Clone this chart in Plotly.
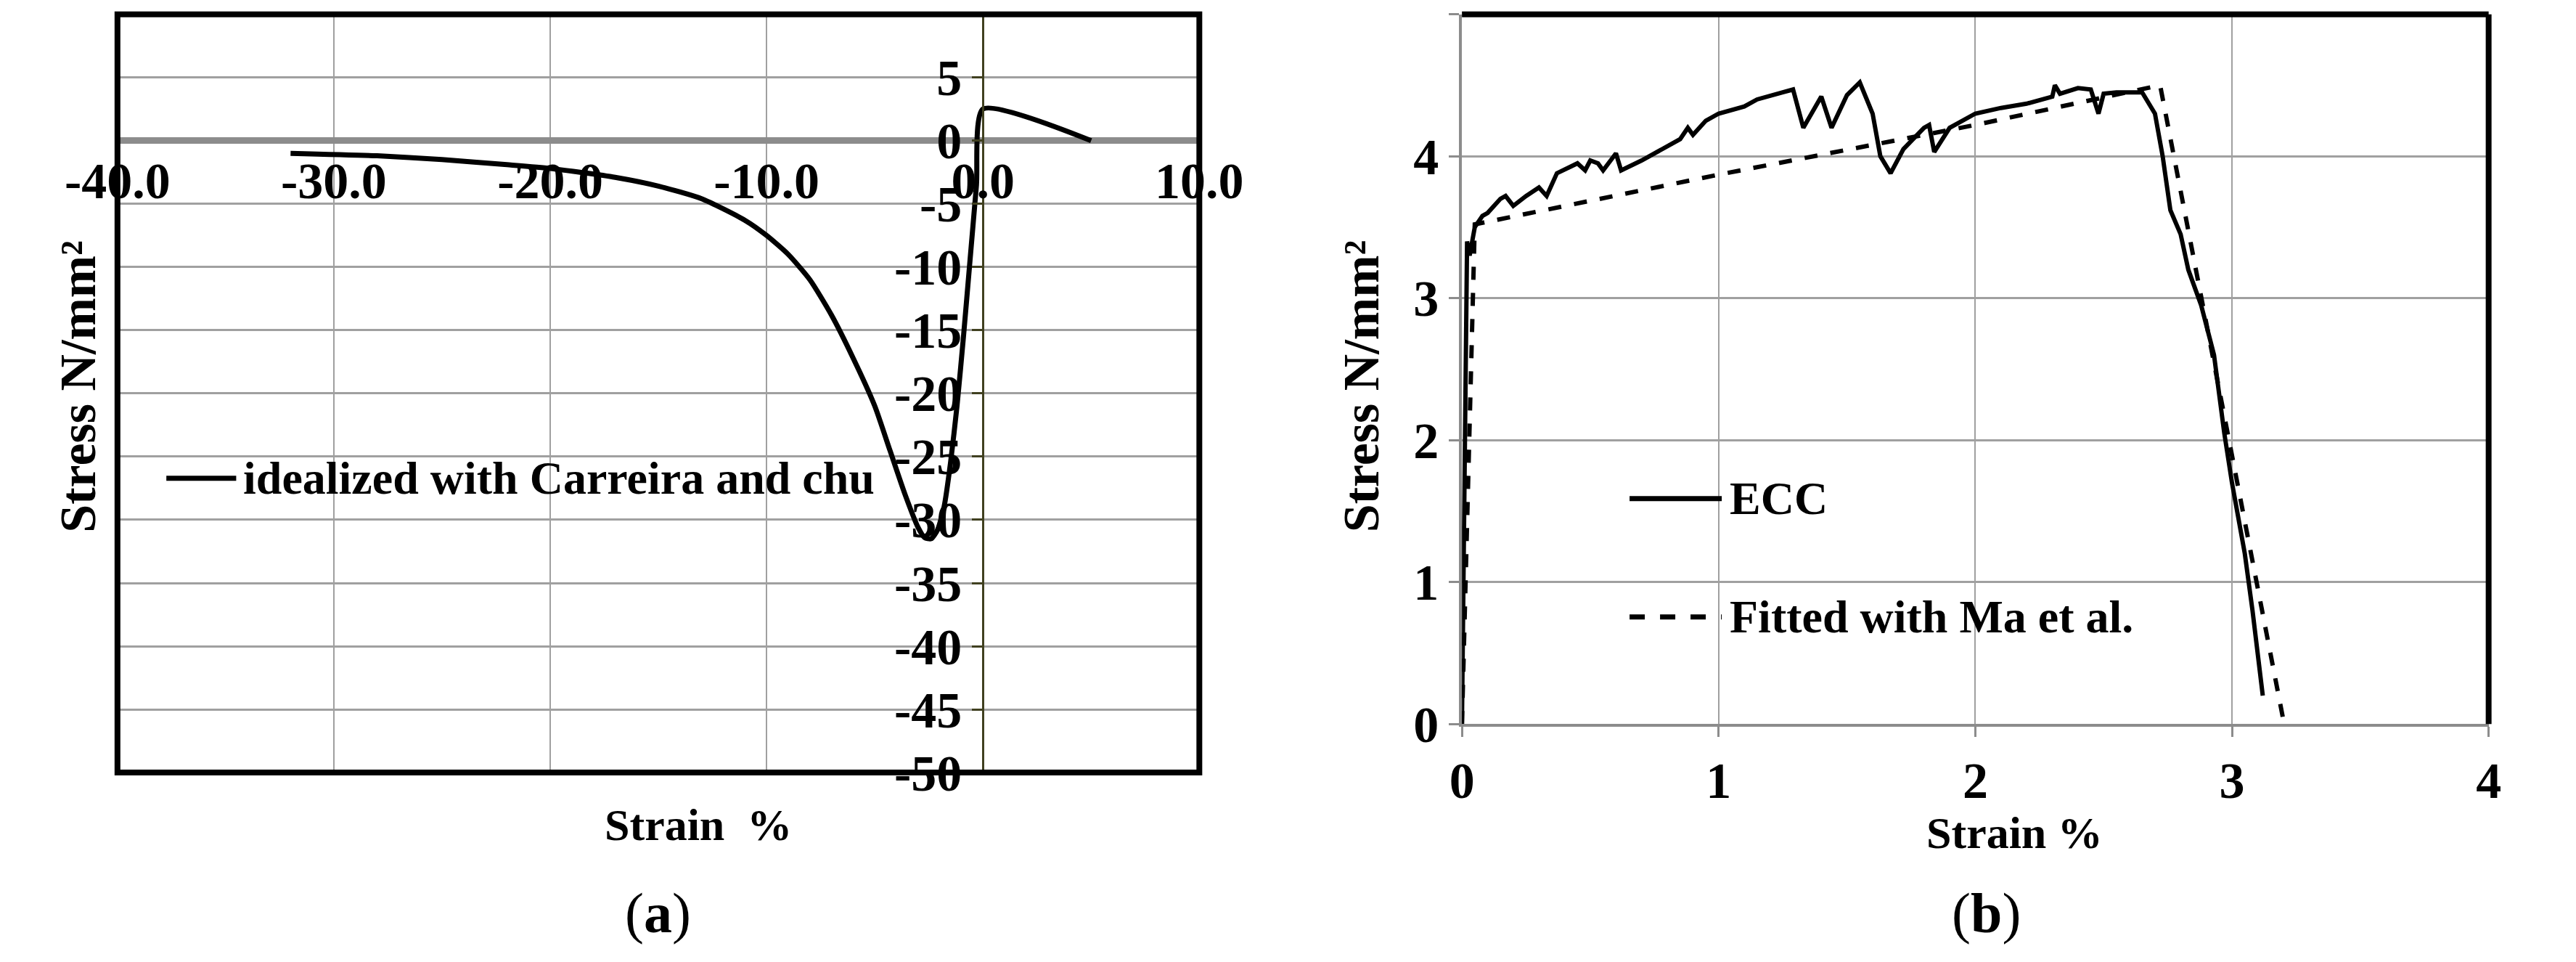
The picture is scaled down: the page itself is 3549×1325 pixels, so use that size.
import plotly.graph_objects as go

# Panel (a)
a_strain = [-32, -28, -25, -22, -20, -17, -15, -13, -11, -10, -9, -8, -7, -6, -5, -4.3, -3.6, -3.0, -2.7, -2.4, -2.1, -1.8, -1.5, -1.2, -0.9, -0.6, -0.3, 0.0, 5.0]
a_stress = [-1.0, -1.2, -1.5, -1.9, -2.2, -2.9, -3.6, -4.6, -6.3, -7.5, -9.0, -11.0, -13.8, -17.2, -21.0, -24.5, -28.0, -30.6, -31.4, -31.5, -30.8, -29.0, -25.5, -21.0, -15.5, -9.5, -3.5, 2.5, 0.0]
a_xticks = [-40, -30, -20, -10, 0, 10]
a_xticklabels = ["-40.0", "-30.0", "-20.0", "-10.0", "0.0", "10.0"]
a_yticks = [10, 5, 0, -5, -10, -15, -20, -25, -30, -35, -40, -45, -50]

# Panel (b)
ecc_strain = [0, 0.02, 0.03, 0.05, 0.08, 0.1, 0.15, 0.17, 0.2, 0.25, 0.3, 0.33, 0.37, 0.42, 0.45, 0.48, 0.5, 0.53, 0.55, 0.6, 0.62, 0.7, 0.8, 0.85, 0.88, 0.9, 0.95, 1.0, 1.1, 1.15, 1.25, 1.29, 1.33, 1.4, 1.44, 1.5, 1.55, 1.6, 1.63, 1.67, 1.72, 1.8, 1.82, 1.84, 1.9, 2.0, 2.1, 2.2, 2.3, 2.31, 2.33, 2.4, 2.45, 2.48, 2.5, 2.55, 2.65, 2.7, 2.73, 2.76, 2.8, 2.83, 2.88, 2.93, 2.97, 3.0, 3.05, 3.08, 3.12]
ecc_stress = [0, 3.4, 3.3, 3.5, 3.58, 3.6, 3.7, 3.72, 3.65, 3.72, 3.78, 3.72, 3.88, 3.92, 3.95, 3.9, 3.97, 3.95, 3.9, 4.02, 3.9, 3.97, 4.07, 4.12, 4.2, 4.15, 4.25, 4.3, 4.35, 4.4, 4.45, 4.47, 4.2, 4.42, 4.2, 4.43, 4.52, 4.3, 4.0, 3.88, 4.05, 4.2, 4.22, 4.03, 4.2, 4.3, 4.34, 4.37, 4.42, 4.5, 4.44, 4.48, 4.47, 4.3, 4.44, 4.45, 4.45, 4.3, 4.0, 3.62, 3.45, 3.2, 2.95, 2.6, 2.05, 1.7, 1.2, 0.8, 0.2]
fit_strain = [0, 0.05, 1.0, 2.0, 2.72, 3.2]
fit_stress = [0, 3.52, 3.87, 4.22, 4.5, 0.03]

W, H = 3549, 1325
FONT = "Liberation Serif"
aL, aR, aT, aB = 84, 1633, 12, 1089
bL, bR, bT, bB = 2009, 3479, 12, 1020
px = lambda x: x / W
py = lambda y: 1 - y / H

fig = go.Figure()
fig.add_trace(go.Scatter(x=a_strain, y=a_stress, mode="lines", line=dict(color="black", width=7, shape="spline", smoothing=0.6),
                         xaxis="x", yaxis="y", showlegend=False))
fig.add_trace(go.Scatter(x=ecc_strain, y=ecc_stress, mode="lines", line=dict(color="black", width=6),
                         xaxis="x2", yaxis="y2", showlegend=False))
fig.add_trace(go.Scatter(x=fit_strain, y=fit_stress, mode="lines", line=dict(color="black", width=6, dash="dash"),
                         xaxis="x2", yaxis="y2", showlegend=False))

tickfont = dict(family=FONT, size=70, color="black")
btickfont = dict(family="Liberation Serif", size=70, color="black")
zero_frac = (0 - (-50)) / 60
fig.update_layout(
    width=W, height=H, margin=dict(l=0, r=0, t=0, b=0),
    plot_bgcolor="white", paper_bgcolor="white",
    xaxis=dict(domain=[px(aL), px(aR)], range=[-40, 10], tickvals=a_xticks,
               ticktext=["<b>%s</b>" % t for t in a_xticklabels],
               anchor="free", position=py(aB) + zero_frac * (py(aT) - py(aB)),
               showline=False, showgrid=True, gridcolor="#a0a0a0", gridwidth=2, zeroline=False,
               ticks="", tickfont=tickfont, ticklabelstandoff=8),
    yaxis=dict(domain=[py(aB), py(aT)], range=[-50, 10], tickvals=a_yticks,
               ticktext=["<b>%d</b>" % v for v in a_yticks],
               anchor="free", position=px(aL + 0.8 * (aR - aL)),
               showline=True, linecolor="#404020", linewidth=3, ticks="outside", ticklen=14,
               tickcolor="#404020", tickwidth=3,
               showgrid=True, gridcolor="#a0a0a0", gridwidth=3,
               zeroline=True, zerolinecolor="#8c8c8c", zerolinewidth=9, tickfont=tickfont),
    xaxis2=dict(domain=[px(bL), px(bR)], range=[0, 4], tickvals=[0, 1, 2, 3, 4],
                ticktext=["<b>%d</b>" % v for v in [0, 1, 2, 3, 4]], anchor="y2",
                showline=True, linecolor="#8c8c8c", linewidth=4, ticks="outside", tickcolor="#8c8c8c",
                ticklen=14, tickwidth=3, showgrid=True, gridcolor="#a0a0a0", gridwidth=2,
                zeroline=False, tickfont=btickfont),
    yaxis2=dict(domain=[py(bB), py(bT)], range=[0, 5], tickvals=[0, 1, 2, 3, 4, 5],
                ticktext=["<b>%d</b>" % v for v in [0, 1, 2, 3, 4, 5]], anchor="x2",
                showline=True, linecolor="#8c8c8c", linewidth=4, ticks="outside", tickcolor="#8c8c8c",
                ticklen=14, tickwidth=3, showgrid=True, gridcolor="#a0a0a0", gridwidth=3,
                zeroline=False, tickfont=btickfont),
)

shapes = [
    dict(type="rect", xref="paper", yref="paper", x0=px(aL), x1=px(aR), y0=py(aB), y1=py(aT),
         line=dict(color="black", width=8)),
    dict(type="line", xref="paper", yref="paper", x0=px(bL), x1=px(bR), y0=py(bT), y1=py(bT),
         line=dict(color="black", width=8)),
    dict(type="line", xref="paper", yref="paper", x0=px(bR), x1=px(bR), y0=py(bT), y1=py(bB),
         line=dict(color="black", width=8)),
    dict(type="line", xref="paper", yref="paper", x0=px(154), x1=px(254), y0=py(671), y1=py(671),
         line=dict(color="black", width=7)),
    dict(type="line", xref="paper", yref="paper", x0=px(2249), x1=px(2381), y0=py(700), y1=py(700),
         line=dict(color="black", width=7)),
    dict(type="line", xref="paper", yref="paper", x0=px(2249), x1=px(2381), y0=py(868), y1=py(868),
         line=dict(color="black", width=7, dash="dash")),
]
fig.update_layout(shapes=shapes)

legfont = dict(family=FONT, size=64, color="black")
ann = [
    dict(x=px(262), y=py(671), text="<b>idealized with Carreira and chu</b>", xanchor="left", font=legfont),
    dict(x=px(2390), y=py(700), text="<b>ECC</b>", xanchor="left", font=legfont),
    dict(x=px(2390), y=py(868), text="<b>Fitted with Ma et al.</b>", xanchor="left", font=legfont),
    dict(x=px(916), y=py(1163), text="<b>Strain  %</b>", xanchor="center", font=dict(family=FONT, size=62, color="black")),
    dict(x=px(2800), y=py(1174), text="<b>Strain %</b>", xanchor="center", font=dict(family=FONT, size=62, color="black")),
    dict(x=px(28), y=py(540), text="<b>Stress N/mm²</b>", textangle=-90, xanchor="center", font=dict(family=FONT, size=70, color="black")),
    dict(x=px(1865), y=py(540), text="<b>Stress N/mm²</b>", textangle=-90, xanchor="center", font=dict(family=FONT, size=70, color="black")),
    dict(x=px(858), y=py(1288), text="(<b>a</b>)", xanchor="center", font=dict(family=FONT, size=78, color="black")),
    dict(x=px(2760), y=py(1288), text="(<b>b</b>)", xanchor="center", font=dict(family=FONT, size=78, color="black")),
]
for a in ann:
    fig.add_annotation(xref="paper", yref="paper", yanchor="middle", showarrow=False, **a)

fig.write_html("out.html")
